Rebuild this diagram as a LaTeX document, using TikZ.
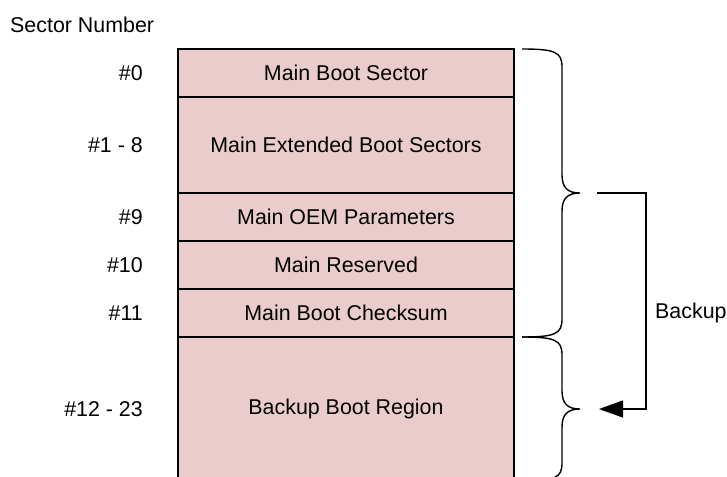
\documentclass[tikz,border=0pt]{standalone}
\usepackage{fontspec}
\setmainfont{Liberation Sans}
\usetikzlibrary{arrows.meta}
\definecolor{rowfill}{RGB}{234,204,204}
\begin{document}
\begin{tikzpicture}[x=1pt,y=-1pt,
  every node/.style={font=\fontsize{21.4}{25}\selectfont, inner sep=0pt},
  row/.style={draw=black, line width=1.4pt, fill=rowfill, minimum width=336pt, anchor=center},
  lbl/.style={anchor=east},
  brace/.style={draw=black, line width=1.4pt},
  link/.style={draw=black, line width=1.4pt}]
\useasboundingbox (0,0) rectangle (727,476);
\begin{scope}
\clip (0,0) rectangle (727,476);
\node[row, minimum height=48pt] (r0) at (346,73) {Main Boot Sector};
\node[row, minimum height=96pt] (r1) at (346,145) {Main Extended Boot Sectors};
\node[row, minimum height=48pt] (r9) at (346,217) {Main OEM Parameters};
\node[row, minimum height=48pt] (r10) at (346,265) {Main Reserved};
\node[row, minimum height=48pt] (r11) at (346,313) {Main Boot Checksum};
\node[row, minimum height=144pt] (r12) at (346,409) {Backup Boot Region};
\path[brace] (522,49) .. controls (555,49) and (562,52) .. (562,67) -- (562,175)
  .. controls (562,188) and (568,193) .. (580,193)
  .. controls (568,193) and (562,198) .. (562,211) -- (562,319)
  .. controls (562,334) and (555,337) .. (522,337);
\path[brace] (522,337) .. controls (555,337) and (562,340) .. (562,355) -- (562,391)
  .. controls (562,404) and (568,409) .. (580,409)
  .. controls (568,409) and (562,414) .. (562,427) -- (562,463)
  .. controls (562,478) and (555,481) .. (522,481);
\end{scope}
\node[anchor=west] (sn) at (10,25) {Sector Number};
\node[lbl] (l0) at (143,73) {\#0};
\node[lbl] (l1) at (143,145) {\#1 - 8};
\node[lbl] (l9) at (143,217) {\#9};
\node[lbl] (l10) at (143,265) {\#10};
\node[lbl] (l11) at (143,313) {\#11};
\node[lbl] (l12) at (143,409) {\#12 - 23};
\coordinate (from) at (597,193);
\coordinate (to) at (599,409);
\path[link, -{Triangle[length=24pt,width=17pt]}] (from) -- (646,193) -- (646,409) -- (to);
\node[anchor=west] (bk) at (655,313) {Backup};
\end{tikzpicture}
\end{document}
